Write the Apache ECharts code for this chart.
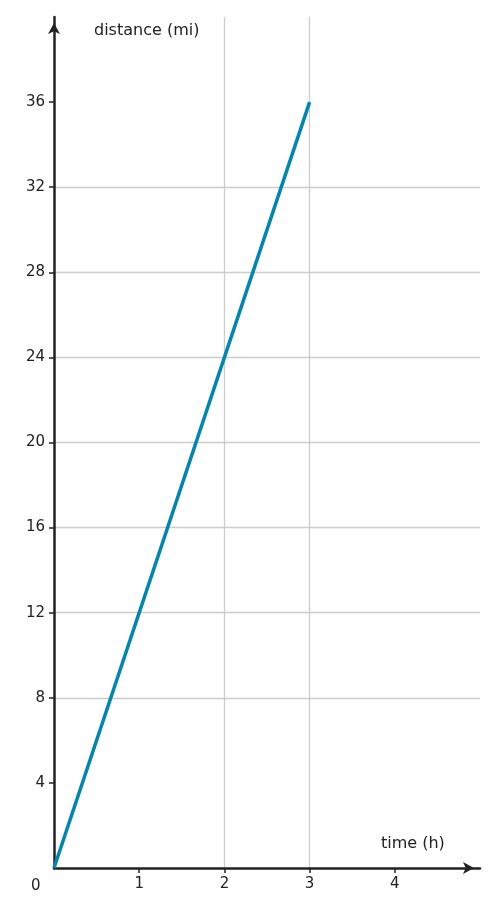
<!DOCTYPE html>
<html><head><meta charset="utf-8">
<script src="https://cdn.jsdelivr.net/npm/echarts@6/dist/echarts.min.js"></script>
<style>html,body{margin:0;padding:0;background:#fff}#c{width:497px;height:917px}</style>
</head><body><div id="c"></div>
<script>
const timeH = [0, 3];
const distanceMi = [0, 36];
const xTicks = [1, 2, 3, 4];
const yTicks = [4, 8, 12, 16, 20, 24, 28, 32, 36];
const font = 'DejaVu Sans';
const chart = echarts.init(document.getElementById('c'));
const axisCommon = {
  axisLine: {show: true, lineStyle: {color: '#222', width: 2.5}, symbol: ['none', 'arrow'], symbolSize: [9, 11], symbolOffset: [0, -6]},
  axisTick: {show: true, length: 5, lineStyle: {color: '#222', width: 1.5}},
  axisLabel: {color: '#222', fontFamily: font, fontSize: 15, margin: 9},
  splitLine: {show: true, showMinLine: false, showMaxLine: false, lineStyle: {color: '#ccc', width: 1.3}}
};
chart.setOption({
  animation: false,
  grid: {left: 54, right: 17, top: 17, bottom: 49},
  xAxis: Object.assign({}, axisCommon, {
    type: 'value', min: 0, max: 5, interval: 1,
    axisTick: Object.assign({}, axisCommon.axisTick, {customValues: xTicks}),
    axisLabel: Object.assign({}, axisCommon.axisLabel, {customValues: xTicks})
  }),
  yAxis: Object.assign({}, axisCommon, {
    type: 'value', min: 0, max: 40, interval: 4,
    axisTick: Object.assign({}, axisCommon.axisTick, {customValues: yTicks}),
    axisLabel: Object.assign({}, axisCommon.axisLabel, {customValues: yTicks})
  }),
  graphic: [
    {type: 'text', left: 94, top: 23, style: {text: 'distance (mi)', fill: '#222', fontFamily: font, fontSize: 16}},
    {type: 'text', left: 381, top: 836, style: {text: 'time (h)', fill: '#222', fontFamily: font, fontSize: 16}},
    {type: 'text', left: 31, top: 879, style: {text: '0', fill: '#222', fontFamily: font, fontSize: 15}}
  ],
  series: [{
    type: 'line', data: timeH.map((t, i) => [t, distanceMi[i]]),
    showSymbol: false, lineStyle: {color: '#0085b5', width: 3.5}
  }]
});
</script></body></html>
